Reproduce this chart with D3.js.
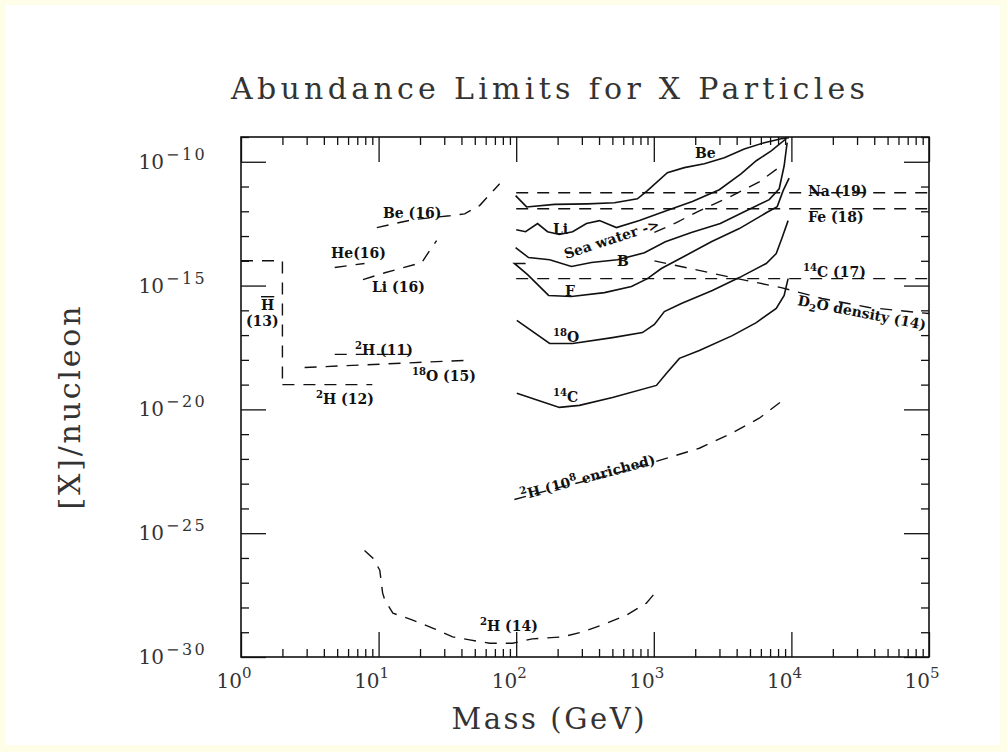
<!DOCTYPE html>
<html>
<head>
<meta charset="utf-8">
<script src="https://cdn.jsdelivr.net/npm/d3@7"></script>
<style>
body { margin: 0; background: #fdfde8; }
svg { display: block; }
</style>
</head>
<body>
<svg id="chart" width="1007" height="752"></svg>
<script>
// ---- axes ----
var massDecades = [1, 10, 100, 1e3, 1e4, 1e5];
var massExponents = ["0", "1", "2", "3", "4", "5"];
var abundMajor = [1e-10, 1e-15, 1e-20, 1e-25, 1e-30];
var abundExponents = ["\u221210", "\u221215", "\u221220", "\u221225", "\u221230"];

// ---- solid limit curves [mass GeV, abundance per nucleon] ----
var beCurve = [[99,4.3e-12],[119,1.5e-12],[190,1.9e-12],[330,2.0e-12],[518,2.2e-12],[760,3.2e-12],
  [899,6.8e-12],[1255,3.6e-11],[1667,5.8e-11],[2329,8.3e-11],[3254,1.45e-10],[4544,3.3e-10],
  [6351,5.9e-10],[8429,8.5e-10],[9600,9.3e-10]];
var liCurve = [[100,1.8e-13],[117,1.5e-13],[143,3.2e-13],[169,1.5e-13],[206,1.15e-13],[257,1.5e-13],
  [324,3.2e-13],[403,4.2e-13],[535,2.2e-13],[786,4.2e-13],[1233,1.05e-12],[1906,2.5e-12],
  [2994,7.4e-12],[4324,3.3e-11],[5556,1.1e-10],[7134,2.75e-10],[9158,8.5e-10]];
var bCurve = [[99,3.4e-14],[123,1.35e-14],[175,1.1e-14],[252,5.9e-15],[352,8.5e-15],[544,1.1e-14],
  [855,2.1e-14],[1213,5.9e-14],[1875,1.4e-13],[3043,3.2e-13],[4697,1.05e-12],[6901,2.95e-12],
  [8153,8.1e-12],[8859,6.9e-11],[9311,5.9e-10]];
var fCurve = [[117,7.8e-15],[97,7.8e-15],[121,2.75e-15],[172,4.0e-16],[252,3.6e-16],[438,5.2e-16],
  [688,9.1e-16],[899,1.9e-15],[1135,4.9e-15],[1695,1.6e-14],[2618,5.9e-14],[4182,2.0e-13],
  [6564,8.7e-13],[7888,1.55e-12],[8710,6.8e-12],[9624,2.2e-11]];
var o18Curve = [[101,3.9e-17],[175,4.6e-18],[257,4.6e-18],[501,7.9e-18],[827,1.26e-17],[1010,2.7e-17],
  [1193,8.9e-17],[1586,1.9e-16],[2663,6.3e-16],[4182,2.1e-15],[6564,7.8e-15],[7759,1.95e-14],
  [8570,8.7e-14],[9463,4.2e-13]];
var c14Curve = [[101,4.5e-20],[206,1.2e-20],[288,1.45e-20],[501,3.0e-20],[1045,9.3e-20],[1233,2.8e-19],
  [1535,1.15e-18],[2143,2.4e-18],[3719,9.5e-18],[5556,3.2e-17],[7759,1.2e-16],[8859,4.0e-16],
  [9463,1.9e-15]];

// ---- dashed limits ----
var seaWater = [[1010,1.4e-13],[1459,3.5e-13],[2143,1.05e-12],[3719,4.3e-12],[5838,1.55e-11],[7888,5.2e-11]];
var naLimit = [[100,5.6e-12],[1e5,5.6e-12]];
var feLimit = [[100,1.26e-12],[1e5,1.26e-12]];
var c14Limit = [[100,1.9e-15],[1e5,1.9e-15]];
var d2oDensity = [[1010,1.0e-14],[4043,1.9e-15],[8429,8.3e-16],[16700,3.0e-16],[36700,1.3e-16],[1e5,7.4e-17]];
var h2Enriched = [[97,2.3e-24],[206,7.1e-24],[476,2.2e-23],[1099,8.7e-23],[2143,2.7e-22],[3538,9.8e-22],
  [5838,4.4e-21],[9016,2.75e-20]];
var h2Ref14 = [[7.9,2.0e-26],[9.1,9.8e-27],[10.2,3.2e-27],[10.7,3.8e-28],[11.1,2.0e-28],[12.7,5.9e-29],
  [17.7,3.1e-29],[24.7,1.48e-29],[34.5,6.5e-30],[45.9,4.9e-30],[64.1,3.6e-30],[94.2,3.6e-30],
  [131,5.4e-30],[217,6.5e-30],[303,1.02e-29],[453,2.3e-29],[632,4.9e-29],[883,1.5e-28],[1062,5.0e-28]];
var beRef16 = [[9.7,2.2e-13],[17.7,4.6e-13],[32.9,6.6e-13],[42.2,7.9e-13],[54.2,1.7e-12],[75.8,1.3e-11]];
var heRef16 = [[4.8,5.4e-15],[7.9,7.8e-15]];
var liRef16 = [[7.7,1.74e-15],[11.1,3.3e-15],[20.6,8.5e-15],[23.5,2.6e-14],[26.4,6.5e-14]];
var hRef13 = [[1,1e-14],[2,1e-14],[2,1e-19]];
var h2Ref12 = [[2,1e-19],[9,1e-19]];
var h2Ref11 = [[4.8,1.66e-18],[19,1.66e-18]];
var o18Ref15 = [[2.9,4.9e-19],[42,9.5e-19]];

var solidCurves = [beCurve, liCurve, bCurve, fCurve, o18Curve, c14Curve];
var dashedCurves = [seaWater, naLimit, feLimit, c14Limit, d2oDensity, h2Enriched, h2Ref14,
  beRef16, heRef16, liRef16, hRef13, h2Ref12, h2Ref11, o18Ref15];

// annotation text (^{..} superscript, _{..} subscript)
var labels = [
  {t: "Be", x: 695, y: 158},
  {t: "Na (19)", x: 808, y: 196},
  {t: "Fe (18)", x: 808, y: 222},
  {t: "^{14}C (17)", x: 803, y: 277},
  {t: "D_{2}O density (14)", x: 797, y: 305, r: 11},
  {t: "Li", x: 553, y: 234},
  {t: "Sea water ->", x: 566, y: 259, r: -18},
  {t: "B", x: 617, y: 266},
  {t: "F", x: 565, y: 296},
  {t: "^{18}O", x: 553, y: 342},
  {t: "^{14}C", x: 553, y: 402},
  {t: "^{2}H (10^{8} enriched)", x: 522, y: 500, r: -15},
  {t: "^{2}H (14)", x: 480, y: 631},
  {t: "^{2}H (11)", x: 355, y: 355},
  {t: "^{18}O (15)", x: 412, y: 381},
  {t: "^{2}H (12)", x: 316, y: 404},
  {t: "Be (16)", x: 383, y: 218},
  {t: "He(16)", x: 331, y: 258},
  {t: "Li (16)", x: 372, y: 292},
  {t: "(13)", x: 246, y: 326}
];

var serif = "'DejaVu Serif', 'Liberation Serif', serif";
var svg = d3.select("#chart");

svg.append("rect")
    .attr("x", 5).attr("y", 5)
    .attr("width", 995).attr("height", 740)
    .attr("fill", "#fff");

var plotL = 241, plotR = 929, plotT = 137, plotB = 657;

var x = d3.scaleLog().domain([1, 1e5]).range([plotL, plotR]);
var y = d3.scaleLog().domain([1e-30, 1e-9]).range([plotB, plotT]);

// minor ticks: 2..9 per decade, every decade on y
var xMinor = [];
massDecades.slice(0, -1).forEach(function(d) {
  for (var k = 2; k <= 9; k++) xMinor.push(d * k);
});
var yMinor = [];
for (var e = -29; e <= -9; e++) {
  if (e % 5 !== 0) yMinor.push(Math.pow(10, e));
}

function addAxis(axis, tx, ty) {
  var g = svg.append("g")
      .attr("transform", "translate(" + tx + "," + ty + ")")
      .call(axis);
  g.select(".domain").remove();
  g.selectAll("line").attr("stroke", "#111").attr("stroke-width", 1.3);
}

addAxis(d3.axisBottom(x).tickValues(xMinor).tickSize(-8).tickFormat(""), 0, plotB);
addAxis(d3.axisBottom(x).tickValues(massDecades).tickSize(-25).tickFormat(""), 0, plotB);
addAxis(d3.axisTop(x).tickValues(xMinor).tickSize(-8).tickFormat(""), 0, plotT);
addAxis(d3.axisTop(x).tickValues(massDecades).tickSize(-25).tickFormat(""), 0, plotT);
addAxis(d3.axisLeft(y).tickValues(yMinor).tickSize(-8).tickFormat(""), plotL, 0);
addAxis(d3.axisLeft(y).tickValues(abundMajor).tickSize(-25).tickFormat(""), plotL, 0);
addAxis(d3.axisRight(y).tickValues(yMinor).tickSize(-8).tickFormat(""), plotR, 0);
addAxis(d3.axisRight(y).tickValues(abundMajor).tickSize(-25).tickFormat(""), plotR, 0);

svg.append("rect")
    .attr("x", plotL).attr("y", plotT)
    .attr("width", plotR - plotL).attr("height", plotB - plotT)
    .attr("fill", "none")
    .attr("stroke", "#111")
    .attr("stroke-width", 1.6);

// tick labels
var xl = svg.append("g").attr("font-family", serif).attr("fill", "#333");
massDecades.forEach(function(d, i) {
  xl.append("text").attr("x", x(d) + 1).attr("y", 688)
      .attr("text-anchor", "end").attr("font-size", 20).text("10");
  xl.append("text").attr("x", x(d) + 1).attr("y", 678)
      .attr("font-size", 15).text(massExponents[i]);
});
var yl = svg.append("g").attr("font-family", serif).attr("fill", "#333");
abundMajor.forEach(function(d, i) {
  yl.append("text").attr("x", 164).attr("y", y(d) + 7)
      .attr("text-anchor", "end").attr("font-size", 20).text("10");
  yl.append("text").attr("x", 166).attr("y", y(d) - 2)
      .attr("font-size", 16).attr("letter-spacing", 2.5).text(abundExponents[i]);
});

// titles
svg.append("text")
    .attr("x", 548).attr("y", 99)
    .attr("text-anchor", "middle")
    .attr("font-family", serif).attr("font-size", 30).attr("fill", "#333")
    .attr("textLength", 634)
    .text("Abundance Limits for X Particles");
svg.append("text")
    .attr("x", 548).attr("y", 729)
    .attr("text-anchor", "middle")
    .attr("font-family", serif).attr("font-size", 29).attr("fill", "#333")
    .attr("textLength", 193)
    .text("Mass (GeV)");
svg.append("text")
    .attr("transform", "translate(80,408) rotate(-90)")
    .attr("text-anchor", "middle")
    .attr("font-family", serif).attr("font-size", 30).attr("fill", "#333")
    .attr("textLength", 203)
    .text("[X]/nucleon");

// curves
var line = d3.line()
    .x(function(d) { return x(d[0]); })
    .y(function(d) { return y(d[1]); });

svg.append("g").selectAll("path")
    .data(dashedCurves)
    .enter().append("path")
      .attr("d", line)
      .attr("fill", "none")
      .attr("stroke", "#111")
      .attr("stroke-width", 1.4)
      .attr("stroke-dasharray", "12,9");

svg.append("g").selectAll("path")
    .data(solidCurves)
    .enter().append("path")
      .attr("d", line)
      .attr("fill", "none")
      .attr("stroke", "#111")
      .attr("stroke-width", 1.6);

// labels
function richText(sel, str, size) {
  var parts = str.split(/(\^\{[^}]*\}|_\{[^}]*\})/).filter(function(s) { return s.length; });
  var shift = 0;
  parts.forEach(function(p) {
    var target = 0, fs = size;
    if (p[0] === "^") { target = -size * 0.4; fs = size * 0.72; p = p.slice(2, -1); }
    else if (p[0] === "_") { target = size * 0.25; fs = size * 0.72; p = p.slice(2, -1); }
    sel.append("tspan")
        .attr("dy", target - shift)
        .attr("font-size", fs)
        .text(p);
    shift = target;
  });
}

var lg = svg.append("g").attr("font-family", serif).attr("fill", "#111").attr("font-weight", "bold");
labels.forEach(function(l) {
  var t = lg.append("text")
      .attr("transform", "translate(" + l.x + "," + l.y + ")" + (l.r ? " rotate(" + l.r + ")" : ""));
  richText(t, l.t, 14);
});
// the H (13) label carries a bar over the H
lg.append("text")
    .attr("x", 261).attr("y", 310)
    .attr("font-size", 14)
    .attr("text-decoration", "overline")
    .text("H");
</script>
</body>
</html>
